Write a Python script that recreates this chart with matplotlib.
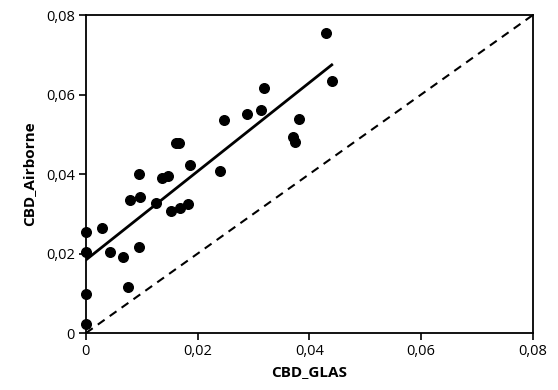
import numpy as np
import matplotlib
matplotlib.use("Agg")
import matplotlib.pyplot as plt
from matplotlib.ticker import FuncFormatter, MultipleLocator

plt.rcParams['font.family'] = ['Open Sans', 'DejaVu Sans']

# CBD values
cbd_glas = [0.0, 0.0, 0.0, 0.0, 0.0028, 0.0043, 0.0067, 0.0076, 0.0079, 0.0097,
            0.0095, 0.0095, 0.0126, 0.0137, 0.0146, 0.0152, 0.0162, 0.0167, 0.0168,
            0.0183, 0.0186, 0.0240, 0.0247, 0.0289, 0.0313, 0.0319, 0.0370, 0.0375,
            0.0381, 0.0430, 0.0440]
cbd_airborne = [0.0024, 0.0098, 0.0205, 0.0255, 0.0265, 0.0205, 0.0192, 0.0117, 0.0335, 0.0343,
                0.0400, 0.0217, 0.0328, 0.0390, 0.0395, 0.0308, 0.0479, 0.0479, 0.0314,
                0.0324, 0.0423, 0.0408, 0.0536, 0.0551, 0.0561, 0.0617, 0.0494, 0.0481,
                0.0538, 0.0756, 0.0634]

# regression line as drawn in the figure
fit_intercept = 0.0184
fit_slope = 1.115

fig = plt.figure(figsize=(5.58, 3.90), dpi=100)
ax = fig.add_axes([0.154, 0.146, 0.801, 0.8155])

ax.plot([0, 0.08], [0, 0.08], color='black', linestyle=(0, (4, 3)), linewidth=1.5, zorder=1)

xs = np.array([0, max(cbd_glas)])
ax.plot(xs, fit_intercept + fit_slope * xs, color='black', linewidth=2, zorder=2)

ax.scatter(cbd_glas, cbd_airborne, s=48, color='black', zorder=3, clip_on=False)

ax.set_xlim(0, 0.08)
ax.set_ylim(0, 0.08)
ax.xaxis.set_major_locator(MultipleLocator(0.02))
ax.yaxis.set_major_locator(MultipleLocator(0.02))

fmt = FuncFormatter(lambda v, p: "0" if abs(v) < 1e-9 else f"{v:.2f}".replace('.', ','))
ax.xaxis.set_major_formatter(fmt)
ax.yaxis.set_major_formatter(fmt)

ax.tick_params(direction='out', length=5, width=1.2, labelsize=10.5, pad=3)
for s in ax.spines.values():
    s.set_linewidth(1.3)

ax.set_xlabel('CBD_GLAS', fontsize=11, fontweight='bold', labelpad=4)
ax.set_ylabel('CBD_Airborne', fontsize=11, fontweight='bold', labelpad=7)

fig.savefig('out.png', dpi=100)
